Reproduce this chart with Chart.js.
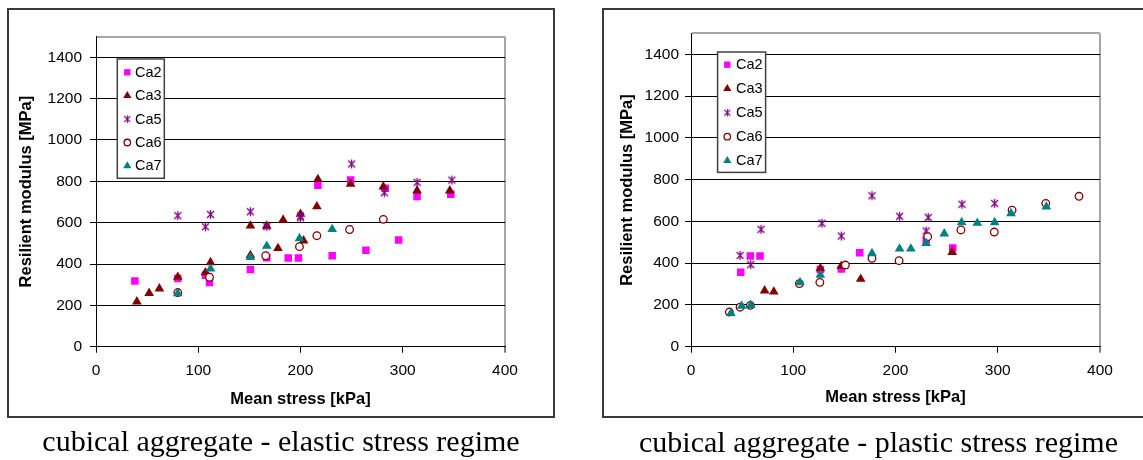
<!DOCTYPE html>
<html>
<head>
<meta charset="utf-8">
<title>Resilient modulus vs mean stress</title>
<script src="https://cdn.jsdelivr.net/npm/chart.js@4/dist/chart.umd.min.js"></script>
<style>
    html, body { margin: 0; padding: 0; background: #fff; width: 1143px; height: 460px; overflow: hidden; }
    canvas { position: absolute; }
    .frame { position: absolute; border: 2px solid #3a3a3a; box-sizing: border-box; pointer-events: none; }
    .caption {
        position: absolute; font-family: "Liberation Serif", "Times New Roman", serif;
        font-size: 30px; line-height: 30px; color: #000; white-space: nowrap; text-align: center;
    }
</style>
</head>
<body>
<canvas id="elasticChart" width="548" height="410" style="left:7px;top:8px"></canvas>
<div class="frame" style="left:7px;top:8px;width:548px;height:410px"></div>
<div class="caption" style="left:7px;top:426px;width:548px">cubical aggregate - elastic stress regime</div>

<canvas id="plasticChart" width="553" height="410" style="left:602px;top:8px"></canvas>
<div class="frame" style="left:602px;top:8px;width:553px;height:410px"></div>
<div class="caption" style="left:602px;top:427px;width:553px">cubical aggregate - plastic stress regime</div>

<script>
// Series names and axis ticks
const seriesNames = ['Ca2', 'Ca3', 'Ca5', 'Ca6', 'Ca7'];
const xTicks = [0, 100, 200, 300, 400];
const yTicks = [0, 200, 400, 600, 800, 1000, 1200, 1400, 1500];

// Elastic stress regime: [mean stress kPa, resilient modulus MPa]
const elasticCa2 = [[38, 318], [80, 330], [107, 346], [111, 311], [151, 373], [167, 430], [188, 429], [198, 429],
    [217, 781], [231, 440], [249, 806], [264, 466], [283, 767], [296, 516], [314, 726], [347, 738]];
const elasticCa3 = [[40, 218], [52, 259], [62, 281], [80, 337], [107, 359], [112, 408], [151, 585], [151, 442],
    [167, 584], [178, 476], [183, 613], [200, 642], [203, 513], [216, 678], [217, 810], [249, 787],
    [281, 774], [314, 755], [346, 755]];
const elasticCa5 = [[80, 634], [107, 580], [112, 640], [151, 653], [167, 581], [200, 632], [200, 624],
    [250, 884], [282, 745], [314, 795], [348, 806]];
const elasticCa6 = [[80, 262], [111, 336], [166, 440], [199, 484], [216, 537], [248, 567], [281, 616]];
const elasticCa7 = [[80, 258], [112, 377], [151, 433], [167, 487], [199, 524], [231, 568]];

// Plastic stress regime
const plasticCa2 = [[48.6, 356], [58, 434], [67.5, 434], [126.5, 370], [147, 372], [165, 450], [230, 511], [256, 472]];
const plasticCa3 = [[72, 268], [81, 263], [126.5, 375], [147, 386], [166, 324], [255.5, 453]];
const plasticCa5 = [[48, 437], [58.4, 393], [68.5, 562], [128, 591], [147, 530], [177, 723], [204, 624],
    [230, 554], [232, 619], [265, 682], [297, 686]];
const plasticCa6 = [[37.5, 166], [48, 189], [58, 198], [106, 302], [126, 308], [151, 391], [177, 423],
    [203.5, 412], [231.5, 527], [264, 559], [296.6, 549], [314, 654], [347, 686], [379.5, 720]];
const plasticCa7 = [[39, 160], [49.6, 195], [58.4, 199], [106.6, 308], [126.5, 343], [177, 447], [204, 469],
    [215, 469], [230, 496], [247.7, 541], [264.7, 595], [280, 592], [297, 595], [313, 638], [347.5, 670]];

Chart.defaults.font.family = '"Liberation Sans", Arial, sans-serif';
Chart.defaults.color = '#000';

// Excel-like asterisk marker (X with a vertical bar)
function asteriskMarker(color) {
    const c = document.createElement('canvas');
    c.width = c.height = 11;
    const g = c.getContext('2d');
    g.strokeStyle = color;
    g.lineWidth = 1.3;
    g.beginPath();
    g.moveTo(2, 2); g.lineTo(9, 9);
    g.moveTo(9, 2); g.lineTo(2, 9);
    g.moveTo(5.5, 1); g.lineTo(5.5, 10);
    g.stroke();
    return c;
}

const markers = [
    { style: 'rect', radius: 5.3, fill: '#FF00FF', line: '#FF00FF', width: 0 },
    { style: 'triangle', radius: 5.6, fill: '#800000', line: '#800000', width: 0 },
    { style: asteriskMarker('#800080'), radius: 5, fill: '#800080', line: '#800080', width: 0 },
    { style: 'circle', radius: 3.8, fill: '#ffffff', line: '#800000', width: 1.3 },
    { style: 'triangle', radius: 5.6, fill: '#008080', line: '#008080', width: 0 }
];

function drawMarker(ctx, ds, x, y, k) {
    const st = ds.pointStyle;
    const r = ds.pointRadius * k;
    if (st instanceof HTMLCanvasElement) {
        ctx.drawImage(st, x - st.width * k / 2, y - st.height * k / 2, st.width * k, st.height * k);
        return;
    }
    ctx.fillStyle = ds.pointBackgroundColor;
    ctx.strokeStyle = ds.pointBorderColor;
    ctx.lineWidth = ds.pointBorderWidth;
    ctx.beginPath();
    if (st === 'rect') {
        const s = r * Math.SQRT1_2;
        ctx.rect(x - s, y - s, 2 * s, 2 * s);
    } else if (st === 'triangle') {
        ctx.moveTo(x, y - r);
        ctx.lineTo(x + r * 0.866, y + r * 0.5);
        ctx.lineTo(x - r * 0.866, y + r * 0.5);
        ctx.closePath();
    } else {
        ctx.arc(x, y, r, 0, Math.PI * 2);
    }
    ctx.fill();
    if (ds.pointBorderWidth > 0) ctx.stroke();
}

// Boxed legend drawn inside the plot area
const boxLegend = {
    id: 'boxLegend',
    afterDatasetsDraw(chart, args, opts) {
        const { ctx, chartArea } = chart;
        const x0 = chartArea.left + opts.dx;
        const y0 = chartArea.top + opts.dy;
        ctx.save();
        ctx.fillStyle = '#fff';
        ctx.fillRect(x0, y0, opts.w, opts.h);
        ctx.strokeStyle = '#404040';
        ctx.lineWidth = 1.5;
        ctx.strokeRect(x0, y0, opts.w, opts.h);
        ctx.font = '14.5px "Liberation Sans", Arial, sans-serif';
        ctx.textBaseline = 'middle';
        chart.data.datasets.forEach((ds, i) => {
            const y = y0 + opts.first + i * opts.step;
            drawMarker(ctx, ds, x0 + opts.markX, y, 0.85);
            ctx.fillStyle = '#000';
            ctx.fillText(ds.label, x0 + opts.textX, y + 0.5);
        });
        ctx.restore();
    }
};

function buildChart(canvasId, series, layout) {
    const tickFont = { size: 15.5 };
    const titleFont = { size: 16.5, weight: 'bold' };

    const datasets = seriesNames.map((name, i) => ({
        label: name,
        data: series[i].map(([x, y]) => ({ x, y })),
        pointStyle: markers[i].style,
        pointRadius: markers[i].radius,
        pointHoverRadius: markers[i].radius,
        pointBackgroundColor: markers[i].fill,
        pointBorderColor: markers[i].line,
        pointBorderWidth: markers[i].width,
        showLine: false,
        order: seriesNames.length - 1 - i // later series on top, like Excel
    }));

    return new Chart(document.getElementById(canvasId), {
        type: 'scatter',
        data: { datasets },
        options: {
            responsive: false,
            animation: false,
            events: [],
            layout: { padding: { top: layout.top, right: layout.right, bottom: 0, left: 0 } },
            plugins: {
                legend: { display: false },
                tooltip: { enabled: false },
                boxLegend: layout.legend
            },
            scales: {
                x: {
                    type: 'linear',
                    min: 0,
                    max: 400,
                    afterBuildTicks: s => { s.ticks = xTicks.map(v => ({ value: v })); },
                    afterFit: s => { s.height = layout.xHeight; },
                    ticks: { font: tickFont, color: '#000', padding: 9, maxRotation: 0, autoSkip: false },
                    grid: {
                        color: c => (c.tick && c.tick.value === 400 ? '#a6a6a6' : 'rgba(0,0,0,0)'),
                        lineWidth: c => (c.tick && c.tick.value === 400 ? 2 : 1),
                        tickColor: '#000',
                        tickLength: 6,
                        tickWidth: 1
                    },
                    border: { color: '#000', width: 1 },
                    title: {
                        display: true,
                        text: 'Mean stress [kPa]',
                        font: titleFont,
                        color: '#000',
                        padding: { top: 0, bottom: layout.xTitlePad }
                    }
                },
                y: {
                    type: 'linear',
                    min: 0,
                    max: 1500,
                    afterBuildTicks: s => { s.ticks = yTicks.map(v => ({ value: v })); },
                    afterFit: s => { s.width = layout.yWidth; },
                    ticks: {
                        font: tickFont,
                        color: '#000',
                        padding: layout.yTickPad,
                        autoSkip: false,
                        callback: v => (v === 1500 ? '' : String(v))
                    },
                    grid: {
                        color: c => (c.tick && c.tick.value === 1500 ? '#a6a6a6' : '#000'),
                        lineWidth: c => (c.tick && c.tick.value === 1500 ? 2 : 1),
                        tickColor: c => (c.tick && c.tick.value === 1500 ? 'rgba(0,0,0,0)' : '#000'),
                        tickLength: 6,
                        tickWidth: 1
                    },
                    border: { color: '#000', width: 1 },
                    title: {
                        display: true,
                        text: 'Resilient modulus [MPa]',
                        font: titleFont,
                        color: '#000',
                        padding: { top: layout.yTitlePad, bottom: 0 }
                    }
                }
            }
        },
        plugins: [boxLegend]
    });
}

buildChart('elasticChart', [elasticCa2, elasticCa3, elasticCa5, elasticCa6, elasticCa7], {
    top: 28.6, right: 50, xHeight: 71.3, yWidth: 89, xTitlePad: 9, yTickPad: 8, yTitlePad: 10,
    legend: { dx: 21.3, dy: 22.4, w: 47, h: 119.3, first: 13.3, step: 23.4, markX: 10, textX: 17.7 }
});

buildChart('plasticChart', [plasticCa2, plasticCa3, plasticCa5, plasticCa6, plasticCa7], {
    top: 25.4, right: 55, xHeight: 71.3, yWidth: 89, xTitlePad: 11, yTickPad: 6, yTitlePad: 15.8,
    legend: { dx: 26.6, dy: 18.6, w: 48, h: 120.4, first: 12.7, step: 24, markX: 9.7, textX: 18.4 }
});
</script>
</body>
</html>
